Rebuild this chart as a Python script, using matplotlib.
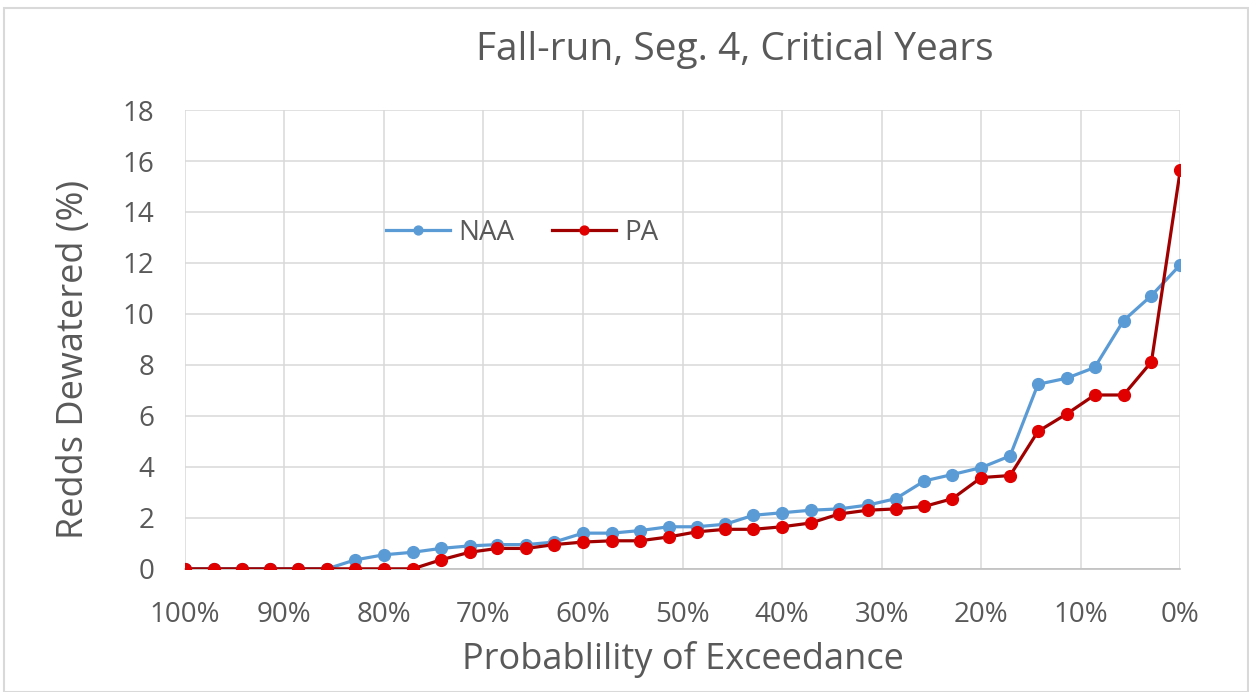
import matplotlib.pyplot as plt
from matplotlib.patches import Rectangle
from matplotlib.ticker import FuncFormatter

plt.rcParams['font.family'] = ['Open Sans', 'DejaVu Sans']

# exceedance probability (%) for each ranked year
exceedance = [100.0, 97.1, 94.3, 91.4, 88.6, 85.7, 82.9, 80.0, 77.1, 74.3,
              71.4, 68.6, 65.7, 62.9, 60.0, 57.1, 54.3, 51.4, 48.6, 45.7,
              42.9, 40.0, 37.1, 34.3, 31.4, 28.6, 25.7, 22.9, 20.0, 17.1,
              14.3, 11.4, 8.6, 5.7, 2.9, 0.0]

naa = [0, 0, 0, 0, 0, 0, 0.35, 0.55, 0.65, 0.8,
       0.9, 0.95, 0.95, 1.05, 1.4, 1.4, 1.5, 1.65, 1.65, 1.75,
       2.1, 2.2, 2.3, 2.35, 2.5, 2.75, 3.45, 3.7, 3.97, 4.43,
       7.24, 7.48, 7.9, 9.74, 10.72, 11.93]

pa = [0, 0, 0, 0, 0, 0, 0, 0, 0, 0.35,
      0.65, 0.8, 0.8, 0.95, 1.05, 1.1, 1.1, 1.25, 1.45, 1.55,
      1.55, 1.65, 1.8, 2.15, 2.3, 2.35, 2.45, 2.75, 3.58, 3.66,
      5.39, 6.08, 6.82, 6.82, 8.12, 15.65]

x_ticks = [100, 90, 80, 70, 60, 50, 40, 30, 20, 10, 0]
y_ticks = [0, 2, 4, 6, 8, 10, 12, 14, 16, 18]

text_gray = '#595959'
grid_gray = '#d9d9d9'

fig = plt.figure(figsize=(12.49, 6.92), dpi=100)
ax = fig.add_axes([0.148, 0.178, 0.797, 0.663])

ax.plot(exceedance, naa, color='#5b9bd5', linewidth=2.3, marker='o',
        markersize=8.5, markerfacecolor='#5b9bd5', markeredgecolor='#5b9bd5',
        label='NAA', zorder=3)
ax.plot(exceedance, pa, color='#a00000', linewidth=2.3, marker='o',
        markersize=8.5, markerfacecolor='#e00000', markeredgecolor='#e00000',
        label='PA', zorder=4)

ax.set_xlim(100, 0)
ax.set_ylim(0, 18)
ax.set_xticks(x_ticks)
ax.set_yticks(y_ticks)
ax.xaxis.set_major_formatter(FuncFormatter(lambda v, p: f"{v:.0f}%"))
ax.tick_params(axis='both', length=0, labelsize=20, colors=text_gray)
ax.tick_params(axis='x', pad=23)
ax.tick_params(axis='y', pad=22)
ax.grid(True, color=grid_gray, linewidth=1.1)
ax.set_axisbelow(True)

for s in ['top', 'right', 'left']:
    ax.spines[s].set_visible(False)
ax.spines['bottom'].set_color('#bfbfbf')
ax.spines['bottom'].set_linewidth(1.2)

ax.set_xlabel("Probablility of Exceedance", fontsize=26, color=text_gray, labelpad=9)
ax.set_ylabel("Redds Dewatered (%)", fontsize=26, color=text_gray)
ax.yaxis.set_label_coords(-0.093, 0.457)
fig.text(0.588, 0.928, "Fall-run, Seg. 4, Critical Years", fontsize=28,
         color=text_gray, ha='center', va='center')

leg = ax.legend(loc='center', bbox_to_anchor=(0.339, 0.732), ncol=2,
                frameon=False, fontsize=20, handlelength=2.3, columnspacing=1.35,
                handletextpad=0.3, markerscale=0.75)
for t in leg.get_texts():
    t.set_color(text_gray)

# light outer chart border
fig.patches.append(Rectangle((0.003, 0.0), 0.996, 0.988, transform=fig.transFigure,
                             fill=False, edgecolor='#d9d9d9', linewidth=1.5))

fig.savefig("out.png", dpi=100)
